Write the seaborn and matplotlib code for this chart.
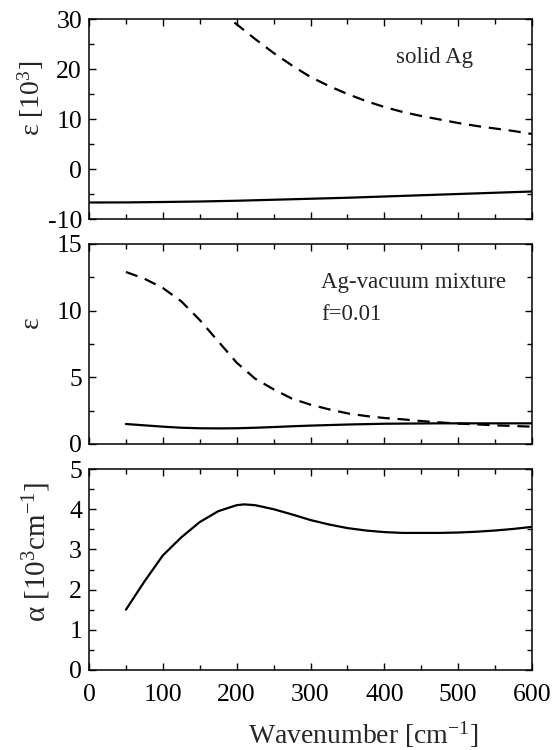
import matplotlib
matplotlib.use("Agg")
import matplotlib.pyplot as plt
from matplotlib.ticker import MultipleLocator
import seaborn as sns

# ---------------- data ----------------
top_solid_x = [0, 50, 100, 150, 200, 250, 300, 350, 400, 450, 500, 550, 600]
top_solid_y = [-6.7, -6.68, -6.6, -6.5, -6.35, -6.15, -5.95, -5.75, -5.5, -5.25, -5.0, -4.75, -4.5]

top_dash_x = [197, 225, 250, 275, 300, 325, 350, 375, 400, 425, 450, 475, 500, 525, 550, 575, 600]
top_dash_y = [29.3, 26.0, 23.2, 20.7, 18.4, 16.6, 15.0, 13.6, 12.4, 11.4, 10.6, 9.9, 9.2, 8.6, 8.1, 7.6, 7.0]

mid_x = [50, 75, 100, 125, 150, 175, 200, 225, 250, 275, 300, 325, 350, 375, 400, 425,
         450, 475, 500, 525, 550, 575, 600]
mid_dash_y = [12.9, 12.4, 11.7, 10.7, 9.3, 7.7, 6.1, 4.9, 4.1, 3.4, 2.95, 2.6, 2.3, 2.1, 1.95,
              1.85, 1.72, 1.62, 1.53, 1.47, 1.4, 1.35, 1.3]
mid_solid_y = [1.5, 1.4, 1.3, 1.22, 1.18, 1.17, 1.18, 1.22, 1.27, 1.33, 1.38, 1.42, 1.46, 1.49,
               1.52, 1.53, 1.54, 1.55, 1.55, 1.55, 1.55, 1.55, 1.55]

bot_x = [50, 75, 100, 125, 150, 175, 200, 210, 225, 250, 275, 300, 325, 350, 375, 400, 425,
         450, 475, 500, 525, 550, 575, 600]
bot_y = [1.5, 2.2, 2.85, 3.3, 3.68, 3.95, 4.1, 4.12, 4.1, 4.0, 3.87, 3.73, 3.62, 3.53, 3.47,
         3.43, 3.41, 3.41, 3.41, 3.42, 3.44, 3.47, 3.51, 3.56]

top_yticks = [-10, 0, 10, 20, 30]
mid_yticks = [0, 5, 10, 15]
bot_yticks = [0, 1, 2, 3, 4, 5]
xticks = [0, 100, 200, 300, 400, 500, 600]

# ---------------- style ----------------
sns.set_style("ticks")
plt.rcParams["font.family"] = ["Liberation Serif", "DejaVu Serif"]
plt.rcParams["mathtext.fontset"] = "custom"
plt.rcParams["mathtext.rm"] = "Liberation Serif"
plt.rcParams["mathtext.it"] = "Liberation Serif:italic"
plt.rcParams["axes.linewidth"] = 1.1
plt.rcParams["axes.unicode_minus"] = False

fig = plt.figure(figsize=(5.57, 7.5), dpi=100)
L, W = 89 / 557, 443 / 557
ax1 = fig.add_axes([L, 1 - 219 / 750, W, 200 / 750])
ax2 = fig.add_axes([L, 1 - 444 / 750, W, 200 / 750])
ax3 = fig.add_axes([L, 1 - 670 / 750, W, 201 / 750])

lw = 1.6
dash = (5.5, 3.5)

sns.lineplot(x=top_solid_x, y=top_solid_y, ax=ax1, color="black", lw=lw)
sns.lineplot(x=top_dash_x, y=top_dash_y, ax=ax1, color="black", lw=lw)
ax1.lines[-1].set_dashes(dash)

sns.lineplot(x=mid_x, y=mid_solid_y, ax=ax2, color="black", lw=lw)
sns.lineplot(x=mid_x, y=mid_dash_y, ax=ax2, color="black", lw=lw)
ax2.lines[-1].set_dashes(dash)

sns.lineplot(x=bot_x, y=bot_y, ax=ax3, color="black", lw=lw)

for ax, yt, ylim, minor in [(ax1, top_yticks, (-10, 30), 5),
                            (ax2, mid_yticks, (0, 15), 2.5),
                            (ax3, bot_yticks, (0, 5), 0.5)]:
    ax.set_xlim(0, 600)
    ax.set_ylim(*ylim)
    ax.set_xticks(xticks)
    ax.set_yticks(yt)
    ax.xaxis.set_minor_locator(MultipleLocator(50))
    ax.yaxis.set_minor_locator(MultipleLocator(minor))
    ax.tick_params(which="both", direction="in", top=True, right=True, width=1.0,
                   labelsize=18.5, colors="black")
    ax.tick_params(which="major", length=5)
    ax.tick_params(which="minor", length=3.5)
    ax.tick_params(axis="y", pad=5)
    ax.tick_params(axis="x", pad=10)
    for s in ax.spines.values():
        s.set_color("black")
    ax.set_xlabel("")

ax1.tick_params(axis="x", labelbottom=False)
ax2.tick_params(axis="x", labelbottom=False)

ax1.set_ylabel("ε [10$^{3}$]", fontsize=20)
ax1.yaxis.set_label_coords(-0.131, 0.605)
ax2.set_ylabel("ε", fontsize=20)
ax2.yaxis.set_label_coords(-0.129, 0.61)
ax3.set_ylabel("α [10$^{3}$cm$^{\\mathrm{-1}}$]", fontsize=21)
ax3.yaxis.set_label_coords(-0.117, 0.587)
ax3.set_xlabel("Wavenumber [cm$^{\\mathrm{-1}}$]", fontsize=20)
ax3.xaxis.set_label_coords(0.619, -0.322)
for lab in (ax1.yaxis.label, ax2.yaxis.label, ax3.yaxis.label, ax3.xaxis.label):
    lab.set_va("center")
    lab.set_ha("center")

ax1.text(416, 22.4, "solid Ag", fontsize=16.5, ha="left", va="center")
ax2.text(314, 12.1, "Ag-vacuum mixture", fontsize=16.5, ha="left", va="center")
ax2.text(314, 9.75, "f=0.01", fontsize=16.5, ha="left", va="center")

fig.savefig("out.png", dpi=100, facecolor="white")
